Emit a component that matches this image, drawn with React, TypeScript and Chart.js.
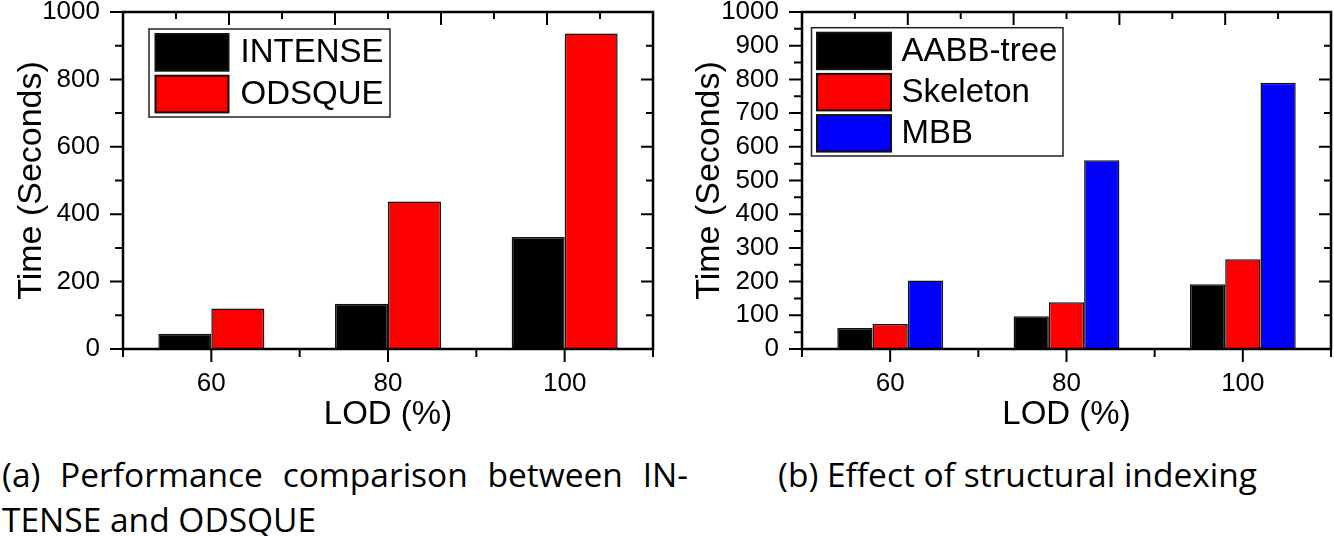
import React, { useEffect, useRef } from 'react';
import { Chart, registerables } from 'chart.js';

Chart.register(...registerables);

// ---------- data ----------
const lodLabels = ['60', '80', '100'];
const intenseTimes = [45, 134, 332];
const odsqueTimes = [120, 438, 936];
const aabbTimes = [62, 97, 192];
const skeletonTimes = [74, 139, 266];
const mbbTimes = [203, 560, 790];
const yMin = 0;
const yMax = 1000;
const xTitle = 'LOD (%)';
const yTitle = 'Time (Seconds)';
const captionA1 = '(a) Performance comparison between IN-';
const captionA2 = 'TENSE and ODSQUE';
const captionB = '(b) Effect of structural indexing';

const FONT = '"Liberation Sans", Arial, sans-serif';

// frame + tick decorations drawn from the chart's own scales
const framePlugin = {
  id: 'frame',
  afterDatasetsDraw(chart: any, _args: any, o: any) {
    const { ctx, chartArea: a, scales } = chart;
    const x = scales.x;
    const y = scales.y;
    ctx.save();
    ctx.strokeStyle = '#000';
    ctx.lineWidth = 2;
    ctx.beginPath();
    // left axis ticks (outward)
    for (let v = yMin; v <= yMax; v += o.leftMinor) {
      const py = y.getPixelForValue(v);
      const len = v % o.leftMajor === 0 ? 13 : 8;
      ctx.moveTo(a.left - len, py);
      ctx.lineTo(a.left, py);
    }
    // right frame ticks (inward)
    for (let v = yMin + 100; v < yMax; v += 100) {
      const py = y.getPixelForValue(v);
      const len = v % 200 === 0 ? 12 : 7;
      ctx.moveTo(a.right - len, py);
      ctx.lineTo(a.right, py);
    }
    // bottom ticks (outward) at category centres and boundaries
    const n = chart.data.labels.length;
    for (let i = -0.5; i <= n - 0.5 + 1e-6; i += 0.5) {
      const px = x.getPixelForValue(i);
      const len = Number.isInteger(i) ? 13 : 8;
      ctx.moveTo(px, a.bottom);
      ctx.lineTo(px, a.bottom + len);
    }
    // top frame ticks (inward)
    for (let k = 1; k < 10; k++) {
      const px = a.left + ((a.right - a.left) * k) / 10;
      const len = k % 2 === 0 ? 13 : 7;
      ctx.moveTo(px, a.top);
      ctx.lineTo(px, a.top + len);
    }
    ctx.stroke();
    ctx.lineWidth = 2.5;
    ctx.strokeRect(a.left, a.top, a.right - a.left, a.bottom - a.top);
    ctx.restore();
  },
};

const boxLegendPlugin = {
  id: 'boxLegend',
  afterDraw(chart: any, _args: any, o: any) {
    const { ctx, chartArea: a } = chart;
    const bx = a.left + o.dx;
    const by = a.top + o.dy;
    ctx.save();
    ctx.fillStyle = '#fff';
    ctx.fillRect(bx, by, o.w, o.h);
    ctx.strokeStyle = '#222';
    ctx.lineWidth = 1.5;
    ctx.strokeRect(bx, by, o.w, o.h);
    chart.data.datasets.forEach((ds: any, i: number) => {
      const sx = bx + o.sx;
      const sy = by + o.sy + i * o.rowH;
      ctx.fillStyle = ds.backgroundColor;
      ctx.fillRect(sx, sy, o.sw, o.sh);
      ctx.strokeStyle = '#111';
      ctx.lineWidth = 2;
      ctx.strokeRect(sx, sy, o.sw, o.sh);
      ctx.fillStyle = '#000';
      ctx.font = `${o.fontSize}px ${FONT}`;
      ctx.textBaseline = 'middle';
      ctx.textAlign = 'left';
      ctx.fillText(ds.label, bx + o.tx, sy + o.sh / 2 + 1);
    });
    ctx.restore();
  },
};

type PanelProps = {
  datasets: any[];
  leftMajor: number;
  leftMinor: number;
  yWidth: number;
  padRight: number;
  yTitlePad: number;
  legend: any;
};

function BarPanel({ datasets, leftMajor, leftMinor, yWidth, padRight, yTitlePad, legend }: PanelProps) {
  const ref = useRef<HTMLCanvasElement>(null);
  useEffect(() => {
    if (!ref.current) return;
    const chart = new Chart(ref.current, {
      type: 'bar',
      data: { labels: lodLabels, datasets },
      options: {
        responsive: false,
        animation: false,
        devicePixelRatio: 1,
        layout: { padding: { left: 0, right: padRight, top: 12, bottom: 0 } },
        datasets: { bar: { categoryPercentage: 0.6, barPercentage: 1.0 } },
        plugins: {
          legend: { display: false },
          tooltip: { enabled: false },
          frame: { leftMajor, leftMinor },
          boxLegend: legend,
        } as any,
        scales: {
          x: {
            type: 'category',
            offset: true,
            grid: { display: false, drawTicks: false },
            border: { display: false },
            ticks: { color: '#000', font: { family: FONT, size: 26 }, padding: 19, maxRotation: 0 },
            title: {
              display: true,
              text: xTitle,
              color: '#000',
              font: { family: FONT, size: 33 },
              padding: { top: 0, bottom: 5 },
            },
            afterFit: (s: any) => {
              s.height = 91;
              s.paddingLeft = 0;
              s.paddingRight = 0;
            },
          },
          y: {
            min: yMin,
            max: yMax,
            grid: { display: false, drawTicks: false },
            border: { display: false },
            ticks: {
              stepSize: leftMajor,
              autoSkip: false,
              color: '#000',
              font: { family: FONT, size: 26 },
              padding: 23,
              callback: (v: any) => String(v),
            },
            title: {
              display: true,
              text: yTitle,
              color: '#000',
              font: { family: FONT, size: 34 },
              padding: { top: yTitlePad, bottom: 0 },
            },
            afterFit: (s: any) => {
              s.width = yWidth;
              s.paddingTop = 0;
              s.paddingBottom = 0;
            },
          },
        },
      } as any,
      plugins: [framePlugin, boxLegendPlugin],
    });
    return () => chart.destroy();
  }, []);
  return <canvas ref={ref} width={667} height={440} style={{ width: 667, height: 440, display: 'block' }} />;
}

const barStyle = { borderColor: '#111', borderWidth: 1.5, borderSkipped: 'bottom' };

export default function App() {
  const leftSets = [
    { label: 'INTENSE', data: intenseTimes, backgroundColor: '#000000', ...barStyle },
    { label: 'ODSQUE', data: odsqueTimes, backgroundColor: '#ff0000', ...barStyle },
  ];
  const rightSets = [
    { label: 'AABB-tree', data: aabbTimes, backgroundColor: '#000000', ...barStyle },
    { label: 'Skeleton', data: skeletonTimes, backgroundColor: '#ff0000', ...barStyle },
    { label: 'MBB', data: mbbTimes, backgroundColor: '#0000ff', ...barStyle },
  ];
  const capStyle: React.CSSProperties = {
    position: 'absolute',
    top: 452,
    fontFamily: '"Open Sans", sans-serif',
    fontSize: 33.5,
    lineHeight: '45px',
    color: '#000',
    whiteSpace: 'nowrap',
  };
  return (
    <div style={{ position: 'relative', width: 1334, height: 536, background: '#fff', overflow: 'hidden' }}>
      <style>{'body{margin:0;background:#fff}'}</style>
      <div style={{ position: 'absolute', left: 0, top: 0 }}>
        <BarPanel
          datasets={leftSets}
          leftMajor={200}
          leftMinor={100}
          yWidth={123}
          padRight={14}
          yTitlePad={11}
          legend={{ dx: 26, dy: 17, w: 241, h: 88, sx: 6.5, sy: 5, rowH: 41.7, sw: 73, sh: 36.7, tx: 91.6, fontSize: 33 }}
        />
      </div>
      <div style={{ position: 'absolute', left: 667, top: 0 }}>
        <BarPanel
          datasets={rightSets}
          leftMajor={100}
          leftMinor={50}
          yWidth={135}
          padRight={3}
          yTitlePad={22}
          legend={{ dx: 9.5, dy: 15.7, w: 251.5, h: 128.3, sx: 5.5, sy: 5, rowH: 41.2, sw: 74, sh: 36.5, tx: 90, fontSize: 33 }}
        />
      </div>
      <div style={{ ...capStyle, left: 2, width: 686 }}>
        <div style={{ textAlign: 'justify', textAlignLast: 'justify', whiteSpace: 'normal' }}>{captionA1}</div>
        <div>{captionA2}</div>
      </div>
      <div style={{ ...capStyle, left: 778 }}>{captionB}</div>
    </div>
  );
}
